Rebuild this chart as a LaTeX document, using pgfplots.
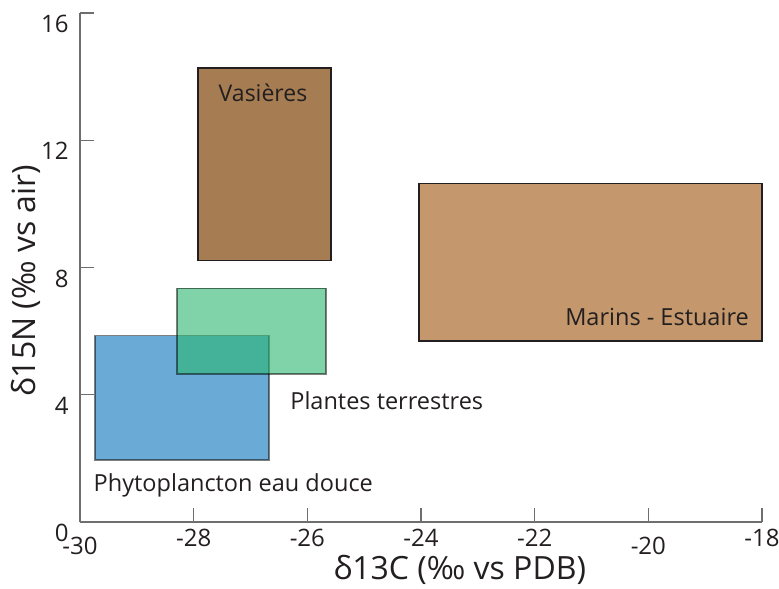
\documentclass[border=0pt]{standalone}
\usepackage{pgfplots}
\pgfplotsset{compat=1.18}
\usepackage{fontspec}
\setmainfont{Open Sans}
\definecolor{vas}{RGB}{166,124,82}
\definecolor{mar}{RGB}{196,152,108}
\definecolor{phy}{RGB}{106,170,215}
\definecolor{pla}{RGB}{43,182,112}
\definecolor{axgray}{RGB}{110,110,110}
\definecolor{txt}{RGB}{35,31,32}
\begin{document}
\begin{tikzpicture}
\useasboundingbox (-80bp,-67bp) rectangle (699bp,522bp);
\begin{axis}[
  width=682bp, height=509bp, scale only axis,
  xmin=-30, xmax=-18, ymin=0, ymax=16,
  axis lines*=left,
  axis line style={axgray, line width=1.3bp},
  tick align=inside,
  major tick length=14bp,
  tick style={axgray, line width=1.2bp},
  xtick={-30,-28,-26,-24,-22,-20,-18},
  xticklabels={\raisebox{-8bp}[\height][0pt]{-30},-28,-26,-24,-22,\raisebox{-8bp}[\height][0pt]{-20},-18},
  ytick={0,4,8,12,16},
  yticklabels={0,4,8,12,16},
  ticklabel style={font=\fontsize{24bp}{28bp}\selectfont, text=txt},
  yticklabel style={yshift=-11bp, xshift=-8bp},
  xticklabel style={yshift=-4bp},
  xlabel={δ13C (‰ vs PDB)},
  ylabel={δ15N (‰ vs air)},
  label style={font=\fontsize{32bp}{36bp}\selectfont, text=txt},
  xlabel style={at={(axis description cs:0.557,-0.094)}, anchor=center},
  ylabel style={at={(axis description cs:-0.079,0.474)}, anchor=center},
  clip=false,
]
% Marins - Estuaire
\addplot [fill=mar, draw=txt, line width=1.8bp] coordinates {(-24.03,5.70) (-18.0,5.70) (-18.0,10.64) (-24.03,10.64)} -- cycle;
% Vasieres
\addplot [fill=vas, draw=txt, line width=1.8bp] coordinates {(-27.92,8.22) (-25.58,8.22) (-25.58,14.28) (-27.92,14.28)} -- cycle;
% Phytoplancton eau douce
\addplot [fill=phy, draw=black, draw opacity=0.5, line width=1.8bp] coordinates {(-29.74,1.94) (-26.67,1.94) (-26.67,5.86) (-29.74,5.86)} -- cycle;
% Plantes terrestres
\addplot [fill=pla, fill opacity=0.6, draw=black, draw opacity=0.5, line width=1.8bp] coordinates {(-28.29,4.64) (-25.67,4.64) (-25.67,7.34) (-28.29,7.34)} -- cycle;
\node[font=\fontsize{23bp}{27bp}\selectfont, text=txt] at (axis cs:-26.78,13.5) {Vasières};
\node[font=\fontsize{23.5bp}{27bp}\selectfont, text=txt, anchor=east] at (axis cs:-18.17,6.43) {Marins - Estuaire};
\node[font=\fontsize{23.5bp}{27bp}\selectfont, text=txt, anchor=west] at (axis cs:-26.36,3.82) {Plantes terrestres};
\node[font=\fontsize{23.5bp}{27bp}\selectfont, text=txt, anchor=west] at (axis cs:-29.82,1.15) {Phytoplancton eau douce};
\end{axis}
\end{tikzpicture}
\end{document}
